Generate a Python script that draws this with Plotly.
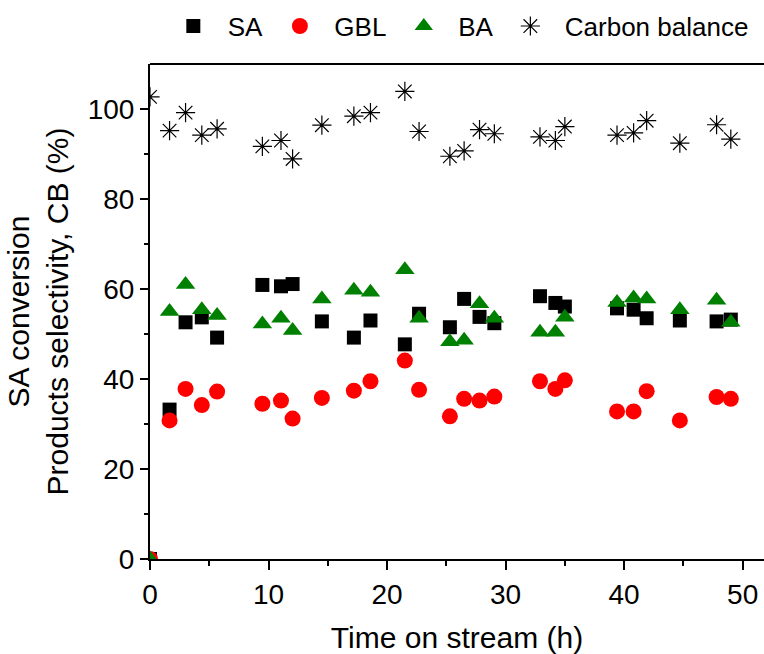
import plotly.graph_objects as go

# Time on stream (h)
time_h = [0, 1.65, 3.0, 4.37, 5.66, 9.48, 11.05, 12.03, 14.5, 17.2, 18.6, 21.5, 22.7,
          25.3, 26.5, 27.8, 29.05, 32.9, 34.2, 35.0, 39.4, 40.8, 41.9, 44.7, 47.8, 49.0]

# SA conversion (%)
sa = [0, 33.2, 52.6, 53.7, 49.2, 60.9, 60.6, 61.1, 52.8, 49.2, 53.0, 47.7, 54.5,
      51.5, 57.8, 53.8, 52.4, 58.4, 56.9, 56.1, 55.7, 55.4, 53.5, 53.0, 52.8, 53.2]

# GBL selectivity (%)
gbl = [0, 30.8, 37.8, 34.2, 37.2, 34.5, 35.2, 31.2, 35.8, 37.4, 39.5, 44.1, 37.6,
       31.7, 35.6, 35.2, 36.1, 39.5, 37.8, 39.7, 32.8, 32.8, 37.3, 30.8, 36.0, 35.6]

# BA selectivity (%)
ba = [0, 55.0, 61.0, 55.4, 54.1, 52.2, 53.5, 50.8, 57.8, 59.7, 59.3, 64.3, 53.5,
      48.3, 48.6, 56.7, 53.5, 50.4, 50.4, 53.7, 57.0, 58.0, 57.8, 55.4, 57.5, 52.6]

# Carbon balance (%)
cb = [102.7, 95.2, 99.2, 94.2, 95.6, 91.7, 93.0, 88.9, 96.4, 98.4, 99.2, 103.9, 95.0,
      89.5, 90.7, 95.4, 94.5, 93.8, 93.0, 96.1, 94.2, 94.7, 97.4, 92.4, 96.5, 93.3]

FONT = "Liberation Sans, Arial, sans-serif"
LEAD = "\u00a0\u00a0"
TRAIL = "\u00a0\u2009"

fig = go.Figure()
fig.add_trace(go.Scatter(x=time_h, y=sa, mode="markers", name=LEAD + "SA" + TRAIL,
                         marker=dict(symbol="square", size=14, color="black")))
fig.add_trace(go.Scatter(x=time_h, y=gbl, mode="markers", name=LEAD + "GBL" + TRAIL,
                         marker=dict(symbol="circle", size=16, color="#ff0000")))
fig.add_trace(go.Scatter(x=time_h, y=ba, mode="markers", name=LEAD + "BA" + TRAIL,
                         marker=dict(symbol="triangle-up", size=17, color="#008000")))
fig.add_trace(go.Scatter(x=time_h, y=cb, mode="markers", name=LEAD + "Carbon balance",
                         marker=dict(symbol="asterisk-open", size=16, color="black",
                                     line=dict(color="#111111", width=1.2))))

fig.update_layout(
    width=764, height=654,
    margin=dict(l=149.5, r=0, t=64, b=95),
    paper_bgcolor="white", plot_bgcolor="white",
    font=dict(family=FONT, size=28, color="black"),
    showlegend=True,
    legend=dict(orientation="h", x=0.038, xanchor="left", y=1.124, yanchor="top",
                font=dict(family=FONT, size=26), bgcolor="rgba(0,0,0,0)",
                itemclick=False),
    xaxis=dict(
        range=[0, 51.8], autorange=False,
        tickmode="array", tickvals=[0, 10, 20, 30, 40, 50],
        ticks="outside", ticklen=9, tickwidth=2, tickcolor="black",
        minor=dict(tickmode="array", tickvals=[5, 15, 25, 35, 45],
                   ticks="outside", ticklen=5, tickwidth=2, tickcolor="black"),
        showline=True, linecolor="black", linewidth=2,
        showgrid=False, zeroline=False,
        tickfont=dict(size=28),
        title=dict(text="Time on stream (h)", font=dict(size=30), standoff=18),
        automargin=False,
    ),
    yaxis=dict(
        range=[0, 110], autorange=False,
        tickmode="array", tickvals=[0, 20, 40, 60, 80, 100],
        ticks="outside", ticklen=8, tickwidth=2, tickcolor="black",
        minor=dict(tickmode="array", tickvals=[10, 30, 50, 70, 90],
                   ticks="outside", ticklen=4, tickwidth=2, tickcolor="black"),
        showline=True, linecolor="black", linewidth=2,
        showgrid=False, zeroline=False,
        tickfont=dict(size=28),
        title=dict(text="SA conversion<br>Products selectivity, CB (%)",
                   font=dict(size=30), standoff=10),
        automargin=False,
    ),
    shapes=[dict(type="line", xref="paper", yref="paper", x0=0, x1=1, y0=1, y1=1,
                 line=dict(color="black", width=2))],
)

fig.write_html("out.html")
